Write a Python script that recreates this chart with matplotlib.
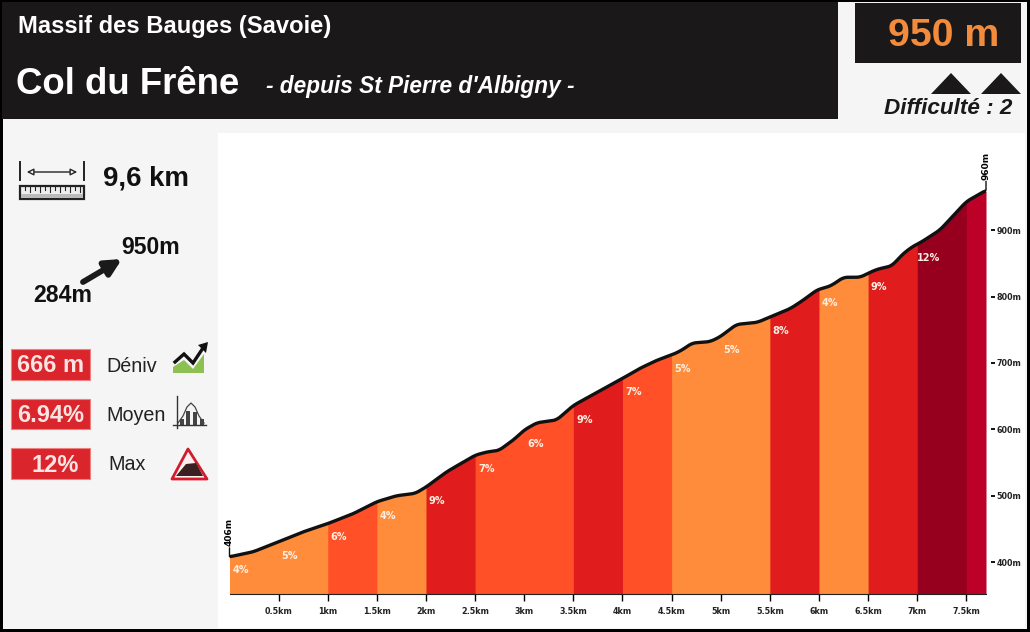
import numpy as np
from matplotlib import pyplot as plt
from matplotlib.patches import Polygon, Rectangle, FancyArrowPatch

# profil du col (km, altitude)
dist_km = [0.0, 0.24, 0.5, 0.75, 1.0, 1.26, 1.5, 1.7, 1.89, 2.0, 2.21, 2.5, 2.62, 2.74, 2.89,
           3.0, 3.13, 3.33, 3.5, 3.98, 4.18, 4.35, 4.5, 4.59, 4.71, 4.89, 4.99, 5.16, 5.37,
           5.5, 5.71, 5.84, 5.98, 6.12, 6.25, 6.42, 6.5, 6.59, 6.74, 6.86, 6.96, 7.03, 7.23,
           7.5, 7.7]
altitude = [408, 415.5, 430.6, 445.6, 458, 473, 491, 500, 503.5, 513, 536, 561, 566, 568, 584,
            599, 610, 614, 636, 675, 692, 704, 712, 718, 730, 732, 739, 758, 761,
            769, 782, 794.6, 810, 816, 829, 829, 835, 841, 846, 865, 876, 881, 900,
            943, 960]

# pente de chaque tronçon de 500 m
pentes = [4, 5, 6, 4, 9, 7, 6, 9, 7, 5, 5, 8, 4, 9, 12]
debut_km = 0.5 * np.arange(len(pentes))
fin_km = 7.7

x_ticks = [0.5, 1, 1.5, 2, 2.5, 3, 3.5, 4, 4.5, 5, 5.5, 6, 6.5, 7, 7.5]
x_labels = ['0.5km', '1km', '1.5km', '2km', '2.5km', '3km', '3.5km', '4km', '4.5km',
            '5km', '5.5km', '6km', '6.5km', '7km', '7.5km']
y_ticks = [400, 500, 600, 700, 800, 900]
y_labels = ['400m', '500m', '600m', '700m', '800m', '900m']

ORANGE = '#FF8C3A'
ROUGE_ORANGE = '#FF5028'
ROUGE = '#E01C1C'
FONCE = '#96001E'
FIN = '#BC0028'
NOIR = '#1A1819'


def couleur_pente(p):
    if p <= 5:
        return ORANGE
    if p <= 7:
        return ROUGE_ORANGE
    if p <= 9:
        return ROUGE
    return FONCE


plt.rcParams['font.family'] = ['Liberation Sans', 'DejaVu Sans']
fig = plt.figure(figsize=(10.3, 6.32), dpi=100, facecolor='black')

# fond en coordonnees pixel
bg = fig.add_axes([0, 0, 1, 1])
bg.set_xlim(0, 1030)
bg.set_ylim(632, 0)
bg.axis('off')
bg.add_patch(Rectangle((3, 2), 1024, 627, fc='#F5F5F5', ec='none'))
bg.add_patch(Rectangle((218, 133), 807, 495, fc='white', ec='none'))

# bandeau du haut
bg.add_patch(Rectangle((2, 2), 836, 117, fc=NOIR, ec='none'))
bg.add_patch(Rectangle((855, 3), 166, 60, fc=NOIR, ec='none'))
bg.text(18, 26, 'Massif des Bauges (Savoie)', color='white', fontsize=17.1, va='center', fontweight='bold')
bg.text(16, 84, 'Col du Frêne', color='white', fontsize=26.4, va='center', fontweight='bold')
bg.text(266, 86, "- depuis St Pierre d'Albigny -", color='white', fontsize=16.3, va='center',
        fontweight='bold', fontstyle='italic')
bg.text(944, 36, '950 m', color='#F28C3C', fontsize=28.3, va='center', ha='center', fontweight='bold')
for cx in (951, 1001):
    bg.add_patch(Polygon([(cx - 20, 94), (cx, 73), (cx + 20, 94)], fc=NOIR, ec='none'))
bg.text(948, 109, 'Difficulté : 2', color=NOIR, fontsize=16.2, va='center', ha='center',
        fontweight='bold', fontstyle='italic')

# regle
bg.plot([20, 20], [162, 180], color='#222222', lw=1.4)
bg.plot([84, 84], [162, 180], color='#222222', lw=1.4)
bg.annotate('', xy=(24, 172), xytext=(80, 172), arrowprops=dict(arrowstyle='<|-|>', color='#222222', lw=1, fc='white'))
bg.add_patch(Rectangle((20, 186), 64, 13, fc='#EEEEEE', ec='#222222', lw=1.6))
bg.add_patch(Rectangle((21, 194), 62, 4, fc='#BBBBBB', ec='none'))
for i in range(12):
    tx = 25 + i * 5
    bg.plot([tx, tx], [186, 192 if i % 2 else 190], color='#222222', lw=0.8)
bg.text(103, 179, '9,6 km', color='#111111', fontsize=19.9, va='center', fontweight='bold')

# altitudes depart / arrivee
bg.text(121, 248, '950m', color='#111111', fontsize=16.6, va='center', fontweight='bold')
bg.text(33, 296, '284m', color='#111111', fontsize=16.6, va='center', fontweight='bold')
bg.add_patch(FancyArrowPatch((83, 282), (122, 259), arrowstyle='-|>', mutation_scale=24, lw=4.2,
                             color='#1A1A1A', shrinkA=0, shrinkB=0))

# cases rouges
for y0, h, val, nom, nx in [(349, 31, '666 m', 'Déniv', 106), (399, 30, '6.94%', 'Moyen', 106),
                            (448, 31, '12%', 'Max', 108)]:
    bg.add_patch(Rectangle((11, y0), 79, h, fc='#D9252B', ec='#EE8080', lw=0.8))
    bg.text(50.5 if val != '12%' else 55, y0 + h / 2 + 1.5, val, color='#FBE4E4', fontsize=17, va='center', ha='center',
            fontweight='bold')
    bg.text(nx, y0 + h / 2 + 1.5, nom, color='#222222', fontsize=14.2, va='center')

# icone deniv
bg.add_patch(Polygon([(173, 373), (173, 367), (184, 360), (193, 369), (204, 354), (204, 373)], fc='#8CC152', ec='none'))
bg.plot([175, 184, 193, 203], [362, 354, 363, 348], color='#111111', lw=2.4, solid_joinstyle='miter')
bg.add_patch(Polygon([(198, 345), (208, 342), (206, 353)], fc='#111111', ec='none'))

# icone moyenne
bg.plot([177, 177], [396, 428], color='#333333', lw=1)
bg.plot([173, 206], [425, 425], color='#333333', lw=1)
for bx, bh in [(182, 6), (188, 14), (195, 13), (202, 6)]:
    bg.add_patch(Rectangle((bx - 2, 425 - bh), 4, bh, fc='#444444', ec='none'))
bg.plot([178, 183, 187, 191, 195, 199, 204], [423, 416, 407, 403, 407, 416, 423], color='#444444', lw=0.9)

# icone pente
bg.add_patch(Polygon([(188, 449), (207, 479), (172, 479)], fc='#FBEFEF', ec='#D01C2C', lw=2, joinstyle='round'))
bg.add_patch(Polygon([(176, 476), (203, 476), (196, 463), (186, 464)], fc='#3A2020', ec='none'))

# profil
left, right, top, bottom = 229.5, 986.0, 132.0, 594.0
ax = fig.add_axes([left / 1030, 1 - bottom / 632, (right - left) / 1030, (bottom - top) / 632])
ax.patch.set_alpha(0)
ax.set_xlim(0, fin_km)
ax.set_ylim(352, 352 + (bottom - top) / 0.664)

# trace adouci pour le dessin seulement
xs = np.linspace(0, fin_km, 771)
ys = np.interp(xs, dist_km, altitude)
fen = 9
ys = np.convolve(np.pad(ys, fen // 2, mode='edge'), np.ones(fen) / fen, mode='valid')

# chaque troncon deborde sous le suivant pour eviter les joints clairs
for i, p in enumerate(pentes):
    x0 = debut_km[i]
    masque = (xs >= x0 - 0.001) & (xs <= x0 + 0.52)
    ax.fill_between(xs[masque], 352, ys[masque], color=couleur_pente(p), lw=0, antialiased=False)
    ax.annotate(f'{p}%', xy=(x0, np.interp(x0, xs, ys)), xytext=(8, -10),
                textcoords='offset points', color='#FFEFE0', fontsize=7, fontweight='bold',
                family='DejaVu Sans', ha='center', va='center', zorder=5)
masque = xs >= 7.499
ax.fill_between(xs[masque], 352, ys[masque], color=FIN, lw=0, antialiased=False)
ax.plot(xs, ys, color='#111111', lw=2.4, solid_joinstyle='round', solid_capstyle='round')

for s in ('top', 'left', 'right'):
    ax.spines[s].set_visible(False)
ax.spines['bottom'].set_linewidth(0.8)
ax.spines['bottom'].set_color('#222222')
ax.set_xticks(x_ticks, x_labels)
ax.yaxis.tick_right()
ax.set_yticks(y_ticks, y_labels)
ax.tick_params(axis='x', length=5, width=1, pad=4, direction='out', labelsize=5.8)
ax.tick_params(axis='y', length=3, width=1.3, pad=1, direction='out', labelsize=5.8)
ax.tick_params(axis='y', which='major', right=True, left=False)
ax.spines['right'].set_position(('outward', 3.5))
for lab in ax.get_xticklabels() + ax.get_yticklabels():
    lab.set_fontweight('bold')
    lab.set_family('DejaVu Sans')
    lab.set_color('#222222')

# altitudes extremes
for km, alt in [(0, altitude[0]), (fin_km, altitude[-1])]:
    ax.annotate('', xy=(km, alt), xytext=(0, 6.5), textcoords='offset points', annotation_clip=False,
                arrowprops=dict(arrowstyle='-', color='#111111', lw=1, shrinkA=0, shrinkB=0))
ax.annotate('406m', xy=(0, altitude[0]), xytext=(0, 8), textcoords='offset points', rotation=90,
            fontsize=6.5, fontweight='bold', family='DejaVu Sans', ha='center', va='bottom', annotation_clip=False)
ax.annotate('960m', xy=(fin_km, altitude[-1]), xytext=(0, 7.5), textcoords='offset points', rotation=90,
            fontsize=6.5, fontweight='bold', family='DejaVu Sans', ha='center', va='bottom', annotation_clip=False)

fig.savefig('out.png', dpi=100, facecolor='black')
